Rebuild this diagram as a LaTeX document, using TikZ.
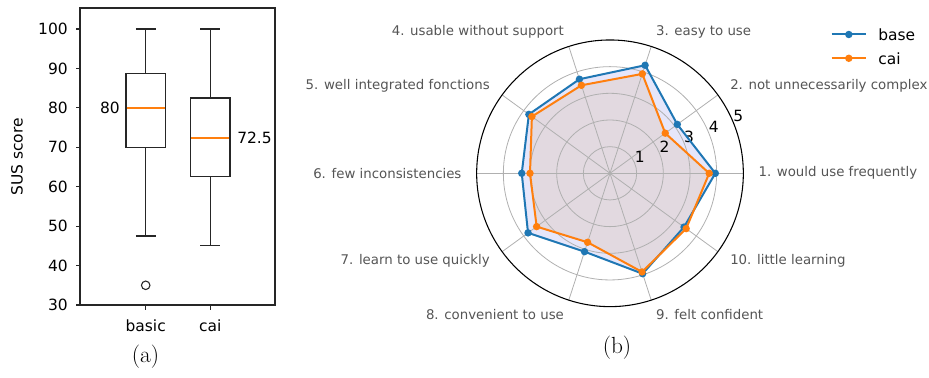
\documentclass[tikz,border=0pt]{standalone}
\usepackage{fontspec}
\newfontfamily\dv{DejaVu Sans}
\definecolor{tabblue}{HTML}{1F77B4}
\definecolor{taborange}{HTML}{FF7F0E}
\definecolor{gridgray}{HTML}{B0B0B0}
\definecolor{lblgray}{HTML}{555555}
\definecolor{basefill}{RGB}{230,230,250}
\definecolor{caifill}{RGB}{226,217,224}
\tikzset{
  axisline/.style={draw=black!85, line width=0.8pt},
  boxline/.style={draw=black!85, line width=0.8pt},
  medline/.style={draw=taborange, line width=1pt},
  ticklbl/.style={font=\dv\fontsize{11.6}{13}\selectfont, inner sep=0pt},
  thetalbl/.style={font=\dv\fontsize{10}{12}\selectfont, text=lblgray, inner sep=0pt},
  gridln/.style={draw=gridgray, line width=0.6pt},
  dataln/.style={line width=1.5pt, line join=round},
  caption/.style={font=\fontsize{17.5}{20}\selectfont, inner sep=0pt}
}
\begin{document}
\begin{tikzpicture}[x=0.75pt,y=-0.75pt]
\useasboundingbox (0,0) rectangle (929,378);
% ---------------- (a) box plot ----------------
\draw[axisline] (80,8) rectangle (275,305);
\foreach \v in {30,40,...,100}{
  \pgfmathsetmacro\yy{305-(\v-30)*3.943}
  \draw[axisline] (80,\yy) -- (75.5,\yy);
  \node[ticklbl, anchor=east] (yt\v) at (68,\yy) {\v};
}
\node[ticklbl, rotate=90] (ylab) at (17,157) {SUS score};
% x ticks
\draw[axisline] (145.7,305) -- (145.7,309.5);
\draw[axisline] (210.3,305) -- (210.3,309.5);
\node[ticklbl] (xb) at (145.7,326) {basic};
\node[ticklbl] (xc) at (210.3,326) {cai};
% basic box
\draw[boxline] (126,73.4) rectangle (165.4,147.3);
\draw[boxline] (145.7,73.4) -- (145.7,29) (135.8,29) -- (155.6,29);
\draw[boxline] (145.7,147.3) -- (145.7,236) (135.8,236) -- (155.6,236);
\draw[medline] (126.6,107.9) -- (164.8,107.9);
\draw[boxline] (145.7,285.3) circle (3.2pt);
\node[ticklbl, anchor=east] (m1) at (120,107.9) {80};
% cai box
\draw[boxline] (190.6,98) rectangle (230,176.9);
\draw[boxline] (210.3,98) -- (210.3,29) (200.4,29) -- (220.2,29);
\draw[boxline] (210.3,176.9) -- (210.3,245.9) (200.4,245.9) -- (220.2,245.9);
\draw[medline] (191.2,137.9) -- (229.4,137.9);
\node[ticklbl, anchor=west] (m2) at (237,137.4) {72.5};
\node[caption] (capa) at (145.5,357) {(a)};
% ---------------- (b) radar ----------------
\begin{scope}[shift={(610,173.3)}]
  \foreach \v [count=\i] in {3.95,3.12,4.26,3.71,3.76,3.31,3.80,3.09,3.96,3.43}
    \coordinate (b\i) at ({-36*(\i-1)}:{\v*26.667});
  \foreach \v [count=\i] in {3.72,2.56,3.92,3.47,3.62,3.00,3.40,2.72,3.89,3.53}
    \coordinate (c\i) at ({-36*(\i-1)}:{\v*26.667});
  \coordinate (ctr) at (0,0);
  \fill[basefill] (b1) -- (b2) -- (b3) -- (b4) -- (b5) -- (b6) -- (b7) -- (b8) -- (b9) -- (b10) -- cycle;
  \fill[caifill] (c1) -- (c2) -- (c3) -- (c4) -- (c5) -- (c6) -- (c7) -- (c8) -- (c9) -- (c10) -- cycle;
  \foreach \r in {1,...,4}
    \draw[gridln] (ctr) circle ({\r*20pt});
  \foreach \k in {0,...,9}
    \draw[gridln] (ctr) -- ({-36*\k}:133.33);
  \draw[line width=0.8pt, black] (ctr) circle (100pt);
  \foreach \r in {1,...,5}
    \node[ticklbl, anchor=south west] (rl\r) at (-22.5:{\r*26.667}) {\r};
  % data
  \draw[dataln, tabblue] (b1) -- (b2) -- (b3) -- (b4) -- (b5) -- (b6) -- (b7) -- (b8) -- (b9) -- (b10) -- cycle;
  \foreach \i in {1,...,10} \fill[tabblue] (b\i) circle (2.8pt);
  \draw[dataln, taborange] (c1) -- (c2) -- (c3) -- (c4) -- (c5) -- (c6) -- (c7) -- (c8) -- (c9) -- (c10) -- cycle;
  \foreach \i in {1,...,10} \fill[taborange] (c\i) circle (2.8pt);
  % theta labels
  \node[thetalbl, anchor=west] (t1) at (0:148.3) {1. would use frequently};
  \node[thetalbl, anchor=west] (t2) at (-36:148.3) {2. not unnecessarily complex};
  \node[thetalbl, anchor=west] (t3) at (-72:148.3) {3. easy to use};
  \node[thetalbl, anchor=east] (t4) at (-108:148.3) {4. usable without support};
  \node[thetalbl, anchor=east] (t5) at (-144:148.3) {5. well integrated fonctions};
  \node[thetalbl, anchor=east] (t6) at (-180:148.3) {6. few inconsistencies};
  \node[thetalbl, anchor=east] (t7) at (-216:148.3) {7. learn to use quickly};
  \node[thetalbl, anchor=east] (t8) at (-252:148.3) {8. convenient to use};
  \node[thetalbl, anchor=west] (t9) at (-288:148.3) {9. felt confident};
  \node[thetalbl, anchor=west] (t10) at (-324:148.3) {10. little learning};
\end{scope}
% legend
\coordinate (lb1) at (831.7,34.5); \coordinate (lb2) at (866,34.5);
\coordinate (lc1) at (831.7,58.3); \coordinate (lc2) at (866,58.3);
\draw[dataln, tabblue] (lb1) -- (lb2);
\fill[tabblue] (848.8,34.5) circle (2.8pt);
\draw[dataln, taborange] (lc1) -- (lc2);
\fill[taborange] (848.8,58.3) circle (2.8pt);
\node[ticklbl, anchor=west] (lgb) at (878,34.5) {base};
\node[ticklbl, anchor=west] (lgc) at (878,58.3) {cai};
\node[caption] (capb) at (617,348) {(b)};
\end{tikzpicture}
\end{document}
